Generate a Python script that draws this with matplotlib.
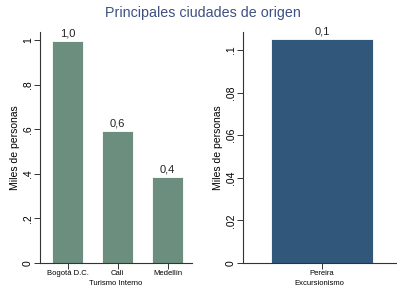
import matplotlib.pyplot as plt

plt.rcParams['font.family'] = ['Liberation Sans', 'DejaVu Sans']

cats_int = ['Bogotá D.C.', 'Cali', 'Medellín']
vals_int = [0.995, 0.59, 0.385]
labels_int = ['1,0', '0,6', '0,4']
yticks_int = [0, 0.2, 0.4, 0.6, 0.8, 1.0]
yticklabels_int = ['0', '.2', '.4', '.6', '.8', '1']

cats_exc = ['Pereira']
vals_exc = [0.105]
labels_exc = ['0,1']
yticks_exc = [0, 0.02, 0.04, 0.06, 0.08, 0.1]
yticklabels_exc = ['0', '.02', '.04', '.06', '.08', '.1']

green = '#6b8e7f'
blue = '#31577a'

fig = plt.figure(figsize=(3.97, 2.88), dpi=100)
fig.text(0.512, 0.955, 'Principales ciudades de origen', ha='center', va='center',
         fontsize=10.3, color='#3e5183')


def panel(rect, cats, vals, labels, yt, ytl, ylim, xlim, width, color, xlabel):
    ax = fig.add_axes(rect)
    x = range(len(cats))
    ax.bar(x, vals, width=width, color=color, edgecolor='white', linewidth=0.6)
    for xi, v, lab in zip(x, vals, labels):
        ax.annotate(lab, (xi, v), xytext=(0, 2), textcoords='offset points',
                    ha='center', va='bottom', fontsize=8, color='#222222')
    ax.set_ylim(*ylim)
    ax.set_xlim(*xlim)
    ax.set_yticks(yt)
    ax.set_yticklabels(ytl, rotation=90, va='center', fontsize=7.5)
    ax.set_xticks(list(x))
    ax.set_xticklabels(cats, fontsize=5.5)
    ax.set_xlabel(xlabel, fontsize=5.5, labelpad=2)
    ax.set_ylabel('Miles de personas', fontsize=7.5, labelpad=2)
    for s in ['top', 'right']:
        ax.spines[s].set_visible(False)
    for s in ['left', 'bottom']:
        ax.spines[s].set_linewidth(0.8)
        ax.spines[s].set_color('#333333')
    ax.tick_params(axis='y', length=4, width=0.7, color='#333333', pad=1)
    ax.tick_params(axis='x', length=4, width=0.7, color='#333333', pad=1)
    return ax


panel([40/397, 25/288, 152/397, 231/288], cats_int, vals_int, labels_int,
      yticks_int, yticklabels_int, (0, 1.036), (-0.55, 2.49), 0.62, green,
      'Turismo Interno')
panel([243/397, 25/288, 153/397, 231/288], cats_exc, vals_exc, labels_exc,
      yticks_exc, yticklabels_exc, (0, 0.1085), (-0.775, 0.725), 1.0, blue,
      'Excursionismo')

fig.savefig('out.png', dpi=100)
